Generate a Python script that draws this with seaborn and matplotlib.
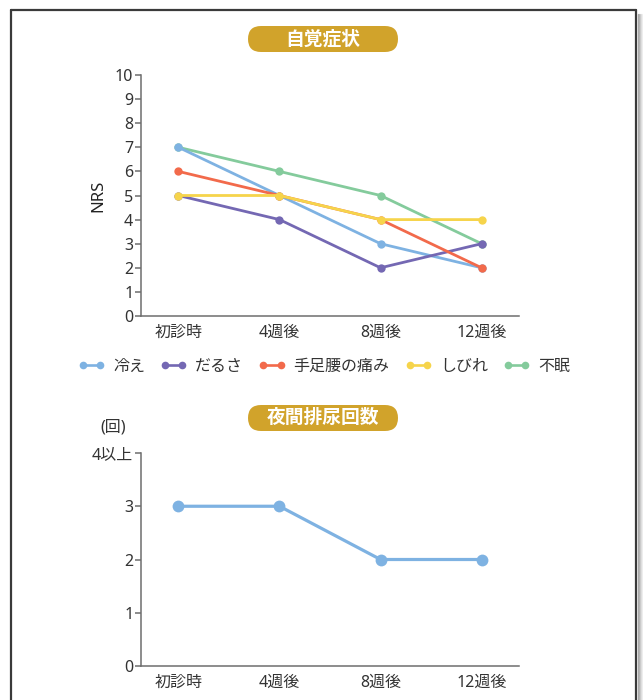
import numpy as np
import pandas as pd
import seaborn as sns
import matplotlib
matplotlib.use("Agg")
import matplotlib.pyplot as plt
from matplotlib.lines import Line2D
from matplotlib.patches import FancyBboxPatch
from matplotlib.transforms import IdentityTransform

sns.set_theme(style="white")
plt.rcParams["font.family"] = ["Noto Sans", "Noto Sans CJK JP", "DejaVu Sans"]

# --- data ---------------------------------------------------------------
timepoints = ["初診時", "4週後", "8週後", "12週後"]

symptoms = ["冷え", "だるさ", "手足腰の痛み", "しびれ", "不眠"]
hiee = [7, 5, 3, 2]
darusa = [5, 4, 2, 3]
itami = [6, 5, 4, 2]
shibire = [5, 5, 4, 4]
fumin = [7, 6, 5, 3]
symptom_values = [hiee, darusa, itami, shibire, fumin]

nocturia = [3, 3, 2, 2]
nocturia_ticks = ["0", "1", "2", "3", "4以上"]

colors = {
    "冷え": "#7eb2e2",
    "だるさ": "#7468b3",
    "手足腰の痛み": "#f26a4b",
    "しびれ": "#f6d44b",
    "不眠": "#84cb9c",
}
draw_order = ["不眠", "冷え", "だるさ", "手足腰の痛み", "しびれ"]

df = pd.DataFrame(
    [(s, t, v) for s, vals in zip(symptoms, symptom_values) for t, v in zip(timepoints, vals)],
    columns=["symptom", "time", "nrs"],
)
df["pos"] = df["time"].map({t: i for i, t in enumerate(timepoints)})
df_noc = pd.DataFrame({"time": timepoints, "count": nocturia})
df_noc["pos"] = range(len(timepoints))

AXIS_C = "#6e6e6e"
TEXT_C = "#333333"
W, H = 643, 700

fig = plt.figure(figsize=(W / 100, H / 100), dpi=100)
fig.patch.set_facecolor("white")


def frac(x0, x1, ytop, ybot):
    return [x0 / W, 1 - ybot / H, (x1 - x0) / W, (ybot - ytop) / H]


def style_axes(ax, ymax):
    for s in ("top", "right"):
        ax.spines[s].set_visible(False)
    for s in ("left", "bottom"):
        ax.spines[s].set_color(AXIS_C)
        ax.spines[s].set_linewidth(1.1)
    ax.set_xlim(-0.37, 3.37)
    ax.set_ylim(0, ymax)
    ax.set_xticks(range(len(timepoints)))
    ax.set_xticklabels(timepoints)
    ax.tick_params(axis="x", length=0, pad=6, labelsize=11.5, labelcolor=TEXT_C)
    ax.tick_params(axis="y", length=4, width=1.1, color=AXIS_C, pad=1.5,
                   labelsize=11.5, labelcolor=TEXT_C, left=True)
    ax.set_xlabel("")
    ax.grid(False)


# --- upper chart: symptom scores ---------------------------------------
ax1 = fig.add_axes(frac(141, 519, 75, 316))
for z, s in enumerate(draw_order):
    sub = df[df["symptom"] == s]
    sns.lineplot(data=sub, x="pos", y="nrs", ax=ax1, color=colors[s],
                 marker="o", markersize=6, markeredgewidth=0, linewidth=2.0,
                 legend=False, zorder=3 + z, clip_on=False)
style_axes(ax1, 10)
ax1.set_yticks(range(0, 11))
ax1.set_ylabel("NRS", fontsize=12, color="#222222", labelpad=6, fontweight="semibold")

handles = [Line2D([0], [0], color=colors[s], marker="o", markersize=5.5,
                  markeredgewidth=0, linewidth=1.9) for s in symptoms]
fig.legend(handles, symptoms, loc="center", bbox_to_anchor=(324 / W, 1 - 367 / H),
           ncol=5, frameon=False, fontsize=11.5, handlelength=1.7, numpoints=2,
           handletextpad=0.5, columnspacing=0.95, labelcolor=TEXT_C)

# --- lower chart: nocturia ---------------------------------------------
ax2 = fig.add_axes(frac(141, 519, 453, 666))
sns.lineplot(data=df_noc, x="pos", y="count", ax=ax2, color=colors["冷え"],
             marker="o", markersize=8.5, markeredgewidth=0, linewidth=2.3,
             legend=False, clip_on=False)
style_axes(ax2, 4)
ax2.set_yticks(range(0, 5))
ax2.set_yticklabels(nocturia_ticks)
ax2.set_ylabel("")
fig.text(113 / W, 1 - 428 / H, "(回)", ha="center", va="center", fontsize=11.5, color=TEXT_C)

# --- section badges -----------------------------------------------------
GOLD = "#d1a32b"
for title, ytop in (("自覚症状", 26), ("夜間排尿回数", 405)):
    x0, x1, h = 248, 398, 26
    patch = FancyBboxPatch((x0, H - ytop - h), x1 - x0, h,
                           boxstyle=f"round,pad=0,rounding_size={h / 2}",
                           transform=IdentityTransform(), fc=GOLD, ec="none")
    fig.patches.append(patch)
    fig.text((x0 + x1) / 2 / W, 1 - (ytop + h / 2) / H, title, ha="center",
             va="center", fontsize=13.5, fontweight="bold", color="white")

# --- panel frame with a soft shadow on the right --------------------------
frame_kw = dict(transform=IdentityTransform(), color="#3a3a3a", linewidth=1.6)
fig.add_artist(Line2D([11, 11], [0, H - 10], **frame_kw))
fig.add_artist(Line2D([11, 636], [H - 10, H - 10], **frame_kw))
fig.add_artist(Line2D([636, 636], [0, H - 10], **frame_kw))
for i, a in enumerate([0.30, 0.22, 0.15, 0.09, 0.05]):
    fig.add_artist(Line2D([638 + i, 638 + i], [0, H - 14], transform=IdentityTransform(),
                          color="black", alpha=a, linewidth=1))

fig.savefig("out.png", dpi=100)
